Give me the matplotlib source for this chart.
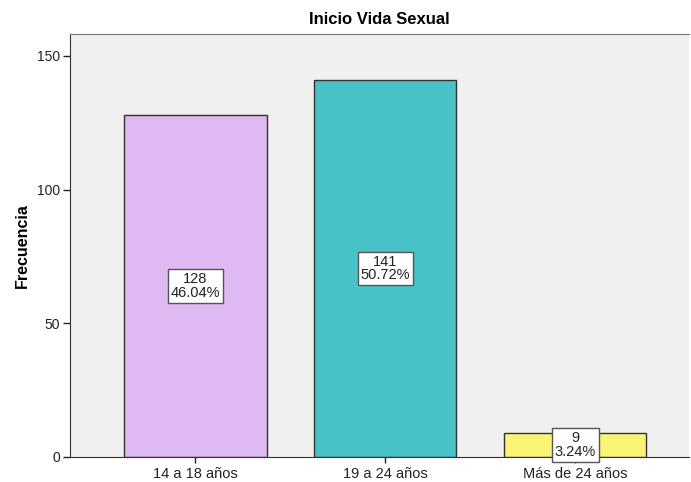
import matplotlib.pyplot as plt

plt.rcParams["font.family"] = ["Liberation Sans", "DejaVu Sans"]

categories = ["14 a 18 años", "19 a 24 años", "Más de 24 años"]
counts = [128, 141, 9]
percents = ["46.04%", "50.72%", "3.24%"]
colors = ["#DEB9F2", "#48C2C6", "#FAF575"]

fig = plt.figure(figsize=(6.91, 4.82), dpi=100)
ax = fig.add_axes([70 / 691, 25 / 482, 619 / 691, 423 / 482])
ax.set_facecolor("#F0F0F0")

x = range(len(categories))
ax.bar(x, counts, width=0.75, color=colors, edgecolor="#333333", linewidth=1, zorder=2)

for i, (c, p) in enumerate(zip(counts, percents)):
    ax.text(i, c / 2, f"{c}\n{p}", ha="center", va="center", fontsize=10.5,
            color="#222222", linespacing=0.95, zorder=3,
            bbox=dict(boxstyle="square,pad=0.2", fc="white", ec="#555555", lw=1))

ax.set_xlim(-0.66, 2.6)
ax.set_ylim(0, 158.2)
ax.set_yticks([0, 50, 100, 150])
ax.set_xticks(list(x))
ax.set_xticklabels(categories, fontsize=10.5, color="#222222")
ax.tick_params(axis="y", labelsize=10, colors="#222222", length=5, width=1, pad=2)
ax.tick_params(axis="x", length=4, width=1, colors="#222222")
ax.set_ylabel("Frecuencia", fontsize=11.5, fontweight="bold", labelpad=5)
ax.set_title("Inicio Vida Sexual", fontsize=12, fontweight="bold", pad=7)

for s in ["left", "bottom"]:
    ax.spines[s].set_color("#333333")
ax.spines["top"].set_color("#777777")
ax.spines["right"].set_visible(False)

fig.savefig("out.png", dpi=100)
